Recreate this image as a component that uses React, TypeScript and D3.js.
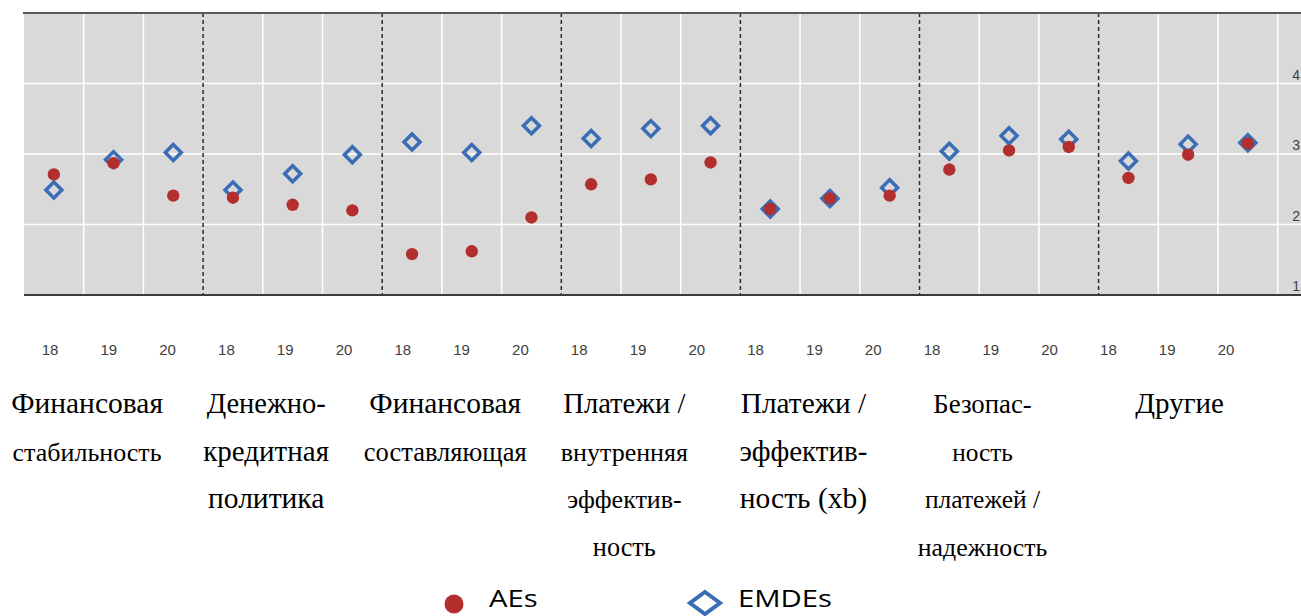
import * as d3 from "d3";
import { useEffect, useRef } from "react";

const BG_COLOR = "#d9d9d9";
const AES_COLOR = "#b22f2d";
const EMDES_COLOR = "#3a6db5";

// groups of three years each
const groupLines = [
  ["Финансовая", "стабильность"],
  ["Денежно-", "кредитная", "политика"],
  ["Финансовая", "составляющая"],
  ["Платежи /", "внутренняя", "эффектив-", "ность"],
  ["Платежи /", "эффектив-", "ность (xb)"],
  ["Безопас-", "ность", "платежей /", "надежность"],
  ["Другие"],
];
const years = ["18", "19", "20"];
const yTicks = [1, 2, 3, 4];

const aes = [
  2.71, 2.87, 2.41, 2.38, 2.28, 2.2, 1.58, 1.62, 2.1, 2.57, 2.64, 2.88, 2.22,
  2.37, 2.41, 2.78, 3.05, 3.1, 2.66, 2.99, 3.15,
];
const emdes = [
  2.49, 2.92, 3.02, 2.49, 2.72, 2.99, 3.17, 3.02, 3.4, 3.22, 3.36, 3.4, 2.22,
  2.37, 2.52, 3.04, 3.26, 3.21, 2.9, 3.14, 3.16,
];

// font size of each label line (some lines in the source are smaller)
const lineSizes = [
  [29.5, 26],
  [28.5, 29, 29.5],
  [29.5, 26.5],
  [28.6, 26, 26, 26.3],
  [29.3, 29, 29.5],
  [26.8, 25.3, 25.5, 25.8],
  [29],
];

const App = () => {
  const svgRef = useRef(null);

  useEffect(() => {
    const width = 1301;
    const height = 616;
    const left = 24;
    const colW = 59.7;
    const top = 13;
    const bottom = 295;

    const cols: string[] = [];
    groupLines.forEach((g, gi) => years.forEach((yr) => cols.push(gi + "-" + yr)));

    const x = d3
      .scaleBand()
      .domain(cols)
      .range([left, left + colW * cols.length]);
    const xLabel = d3
      .scaleBand()
      .domain(cols)
      .range([20.6, 20.6 + 58.8 * cols.length]);
    const y = d3.scaleLinear().domain([1, 5]).range([bottom, top]);

    const svg = d3
      .select(svgRef.current)
      .attr("width", width)
      .attr("height", height);
    svg.selectAll("*").remove();

    svg
      .append("rect")
      .attr("x", left)
      .attr("y", top)
      .attr("width", width - left)
      .attr("height", bottom - top)
      .attr("fill", BG_COLOR);

    // horizontal grid
    svg
      .selectAll(".hgrid")
      .data([2, 3, 4])
      .enter()
      .append("line")
      .attr("x1", left)
      .attr("x2", width)
      .attr("y1", (d) => y(d))
      .attr("y2", (d) => y(d))
      .attr("stroke", "white")
      .attr("stroke-width", 1.5);

    // vertical grid
    const vx = cols.map((c) => x(c) as number).concat([left + colW * cols.length]);
    vx.forEach((vxi, i) => {
      if (i === 0) return;
      const dashed = i % 3 === 0 && i < cols.length;
      svg
        .append("line")
        .attr("x1", vxi)
        .attr("x2", vxi)
        .attr("y1", top)
        .attr("y2", bottom)
        .attr("stroke", dashed ? "#2b2b2b" : "white")
        .attr("stroke-width", 1.5)
        .attr("stroke-dasharray", dashed ? "4,3" : null);
    });

    // borders
    svg
      .append("line")
      .attr("x1", left - 1)
      .attr("x2", width)
      .attr("y1", top)
      .attr("y2", top)
      .attr("stroke", "#595959")
      .attr("stroke-width", 2);
    svg
      .append("line")
      .attr("x1", left)
      .attr("x2", width)
      .attr("y1", bottom)
      .attr("y2", bottom)
      .attr("stroke", "#3a3a3a")
      .attr("stroke-width", 2.2);

    // y labels on the right
    svg
      .selectAll(".ylab")
      .data(yTicks)
      .enter()
      .append("text")
      .attr("x", 1300)
      .attr("y", (d) => y(d) - 4)
      .attr("text-anchor", "end")
      .attr("font-family", "Liberation Sans, Arial, sans-serif")
      .attr("font-size", 14)
      .attr("fill", "#404040")
      .text((d) => d);

    // diamonds first, dots on top
    const diamond = d3.symbol(d3.symbolSquare, 128);
    svg
      .selectAll(".emdes")
      .data(emdes)
      .enter()
      .append("path")
      .attr("d", diamond)
      .attr(
        "transform",
        (d, i) =>
          `translate(${(x(cols[i]) as number) + x.bandwidth() / 2},${y(d)}) rotate(45)`
      )
      .attr("fill", "none")
      .attr("stroke", EMDES_COLOR)
      .attr("stroke-width", 3.5);

    svg
      .selectAll(".aes")
      .data(aes)
      .enter()
      .append("circle")
      .attr("cx", (d, i) => (x(cols[i]) as number) + x.bandwidth() / 2)
      .attr("cy", (d) => y(d))
      .attr("r", 6.2)
      .attr("fill", AES_COLOR);

    // year labels
    svg
      .selectAll(".xlab")
      .data(cols)
      .enter()
      .append("text")
      .attr("x", (d) => (xLabel(d) as number) + xLabel.bandwidth() / 2)
      .attr("y", 355)
      .attr("text-anchor", "middle")
      .attr("font-family", "Liberation Sans, Arial, sans-serif")
      .attr("font-size", 15)
      .attr("fill", "#404040")
      .text((d) => d.split("-")[1]);

    // group labels
    groupLines.forEach((lines, gi) => {
      const gx0 = x(gi + "-18") as number;
      const gx1 = (x(gi + "-20") as number) + x.bandwidth();
      const cx = (gx0 + gx1) / 2 - (gi === groupLines.length - 1 ? 8.5 : 26.5);
      lines.forEach((line, li) => {
        svg
          .append("text")
          .attr("x", cx)
          .attr("y", 413 + li * 47.7)
          .attr("text-anchor", "middle")
          .attr("font-family", "Liberation Serif, Times New Roman, serif")
          .attr("font-size", lineSizes[gi][li])
          .attr("fill", "#000")
          .text(line);
      });
    });

    // legend
    svg
      .append("circle")
      .attr("cx", 454)
      .attr("cy", 604)
      .attr("r", 9.5)
      .attr("fill", AES_COLOR);
    svg
      .append("text")
      .attr("transform", "translate(489,607) scale(1.22,1)")
      .attr("font-family", "Open Sans, sans-serif")
      .attr("font-size", 24)
      .attr("font-weight", 500)
      .attr("fill", "#000")
      .text("AEs");
    svg
      .append("path")
      .attr("d", "M0,-11L15,0L0,11L-15,0Z")
      .attr("transform", "translate(705,603)")
      .attr("fill", "none")
      .attr("stroke", EMDES_COLOR)
      .attr("stroke-width", 4);
    svg
      .append("text")
      .attr("transform", "translate(738,607) scale(1.22,1)")
      .attr("font-family", "Open Sans, sans-serif")
      .attr("font-size", 24)
      .attr("font-weight", 500)
      .attr("fill", "#000")
      .text("EMDEs");
  }, []);

  return (
    <div style={{ position: "absolute", left: 0, top: 0, background: "white" }}>
      <svg ref={svgRef} style={{ display: "block" }}></svg>
    </div>
  );
};

export default App;
